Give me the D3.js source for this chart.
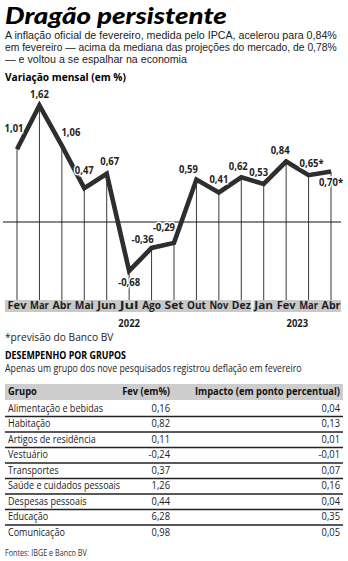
<!DOCTYPE html>
<html>
<head>
<meta charset="utf-8">
<script src="https://cdn.jsdelivr.net/npm/d3@7"></script>
<style>
  body { margin: 0; background: #fff; }
  svg { display: block; font-family: "Open Sans", sans-serif; }
</style>
</head>
<body>
<svg id="chart" width="348" height="561"></svg>
<script>
// monthly IPCA series
const months = ["Fev", "Mar", "Abr", "Mai", "Jun", "Jul", "Ago", "Set", "Out", "Nov", "Dez", "Jan", "Fev", "Mar", "Abr"];
const years = ["2022", "2022", "2022", "2022", "2022", "2022", "2022", "2022", "2022", "2022", "2022", "2023", "2023", "2023", "2023"];
const ipca = [1.01, 1.62, 1.06, 0.47, 0.67, -0.68, -0.36, -0.29, 0.59, 0.41, 0.62, 0.53, 0.84, 0.65, 0.70];
const valueLabels = ["1,01", "1,62", "1,06", "0,47", "0,67", "-0,68", "-0,36", "-0,29", "0,59", "0,41", "0,62", "0,53", "0,84", "0,65*", "0,70*"];

// table
const grupos = ["Alimentação e bebidas", "Habitação", "Artigos de residência", "Vestuário", "Transportes",
  "Saúde e cuidados pessoais", "Despesas pessoais", "Educação", "Comunicação"];
const fev = ["0,16", "0,82", "0,11", "-0,24", "0,37", "1,26", "0,44", "6,28", "0,98"];
const impacto = ["0,04", "0,13", "0,01", "-0,01", "0,07", "0,16", "0,04", "0,35", "0,05"];

// label nudges (dx, dy) relative to each point
const labelNudge = [[-3, -20], [0, -10], [9, -13], [0, -17], [3, -12], [0, 12], [-9, -8], [-10, -15],
  [-8, -9], [0, -12], [-3, -10], [-5, -11], [-6, -10], [3, -11], [0, 11]];

const svg = d3.select("#chart");
const keys = months.map((m, i) => i);

const x = d3.scalePoint().domain(keys).range([17, 331]);
const y = d3.scaleLinear().domain([0, 1]).range([222, 150]);
const bandTop = 300, bandH = 12;

// squeeze text horizontally (the original uses a condensed face)
function squeeze(sel, ratio) {
  sel.each(function (d, i) {
    const el = d3.select(this);
    const r = typeof ratio === "function" ? ratio.call(this, d, i, this.getComputedTextLength()) : ratio;
    const tx = +el.attr("x") || 0, ty = +el.attr("y") || 0;
    el.attr("x", 0).attr("y", 0).attr("transform", `translate(${tx},${ty}) scale(${r},1)`);
  });
}
const fitTo = width => function (d, i, w) { return (typeof width === "function" ? width(d, i) : width) / w; };

// title block
svg.append("text").attr("x", 5).attr("y", 24)
  .style("font-family", "Lato, sans-serif").style("font-weight", 900).style("font-style", "italic")
  .style("font-size", "23.5px")
  .text("Dragão persistente")
  .call(squeeze, fitTo(222));

const sub = [
  "A inflação oficial de fevereiro, medida pelo IPCA, acelerou para 0,84%",
  "em fevereiro — acima da mediana das projeções do mercado, de 0,78%",
  "—  e voltou a se espalhar na economia"
];
const subW = [332, 332, 182];
svg.selectAll(".sub").data(sub).join("text")
  .attr("x", 5).attr("y", (d, i) => 39 + i * 11.8)
  .style("font-family", "'Liberation Sans', sans-serif")
  .style("font-size", "10.5px").style("fill", "#222").text(d => d)
  .call(squeeze, fitTo((d, i) => subW[i]));

svg.append("text").attr("x", 5).attr("y", 81)
  .style("font-weight", 700).style("font-size", "10.5px")
  .text("Variação mensal (em %)").call(squeeze, fitTo(121));

// month band
const step = x.step();
const bandGroups = [[0, 10], [11, 14]];
bandGroups.forEach(([a, b]) => {
  const x0 = a === 0 ? 5 : x(a) - step / 2 + 1;
  const x1 = b === 14 ? 341 : x(b) + step / 2 - 1;
  svg.append("rect").attr("x", x0).attr("y", bandTop).attr("width", x1 - x0).attr("height", bandH)
    .attr("fill", "#c9c9c9");
});

// vertical drop lines
svg.selectAll(".drop").data(keys).join("line")
  .attr("x1", d => x(d)).attr("x2", d => x(d))
  .attr("y1", d => y(ipca[d])).attr("y2", bandTop)
  .attr("stroke", "#3a3a3a").attr("stroke-width", 1);

// zero line
svg.append("line").attr("x1", 3).attr("x2", 341).attr("y1", y(0)).attr("y2", y(0))
  .attr("stroke", "#111").attr("stroke-width", 1.2);

// the series
const line = d3.line().x(d => x(d)).y(d => y(ipca[d]));
svg.append("path").datum(keys).attr("d", line)
  .attr("fill", "none").attr("stroke", "#2e2e2e").attr("stroke-width", 4.6)
  .attr("stroke-linejoin", "miter");

// value labels
svg.selectAll(".val").data(keys).join("text")
  .attr("x", d => x(d) + labelNudge[d][0]).attr("y", d => y(ipca[d]) + labelNudge[d][1])
  .attr("text-anchor", "middle").attr("dominant-baseline", "middle")
  .style("font-weight", 700).style("font-size", "11px").style("fill", "#1e1e1e")
  .attr("stroke", "#fff").attr("stroke-width", 3).attr("paint-order", "stroke")
  .text(d => valueLabels[d])
  .call(squeeze, 0.86);

// month labels
svg.selectAll(".mon").data(keys).join("text")
  .attr("x", d => x(d)).attr("y", bandTop + bandH / 2 + 0.5)
  .attr("text-anchor", "middle").attr("dominant-baseline", "middle")
  .style("font-weight", 700).style("font-size", "10.5px").style("fill", "#1e1e1e")
  .text(d => months[d])
  .call(squeeze, fitTo(d => months[d].length * 6.3));

// year labels
const yearList = Array.from(new Set(years));
svg.selectAll(".yr").data(yearList).join("text")
  .attr("x", yr => {
    const idx = keys.filter(k => years[k] === yr);
    return (x(idx[0]) + x(idx[idx.length - 1])) / 2;
  })
  .attr("y", 327).attr("text-anchor", "middle")
  .style("font-weight", 700).style("font-size", "10.5px").style("fill", "#1e1e1e")
  .text(d => d)
  .call(squeeze, 0.9);

svg.append("text").attr("x", 5).attr("y", 341).style("font-size", "10.5px").style("fill", "#222")
  .text("*previsão do Banco BV").call(squeeze, 0.97);

svg.append("text").attr("x", 5).attr("y", 359).style("font-size", "10.5px").style("font-weight", 700)
  .text("DESEMPENHO POR GRUPOS").call(squeeze, fitTo(121));
svg.append("text").attr("x", 5).attr("y", 372).style("font-size", "10.5px").style("fill", "#222")
  .text("Apenas um grupo dos nove pesquisados registrou deflação em fevereiro")
  .call(squeeze, fitTo(297));

// table
const tTop = 384, hdrH = 16, rowH = 15.5;
const colName = 8, colFev = 170, colImp = 340;
svg.append("rect").attr("x", 5).attr("y", tTop).attr("width", 338).attr("height", hdrH).attr("fill", "#cdcdcd");
const hdr = svg.append("g").style("font-weight", 700).style("font-size", "11px").style("fill", "#111");
hdr.append("text").attr("x", colName).attr("y", tTop + hdrH / 2 + 0.5).attr("dominant-baseline", "middle")
  .text("Grupo").call(squeeze, 0.85);
hdr.append("text").attr("x", colFev).attr("y", tTop + hdrH / 2 + 0.5).attr("dominant-baseline", "middle")
  .attr("text-anchor", "end").text("Fev (em%)").call(squeeze, 0.85);
hdr.append("text").attr("x", colImp).attr("y", tTop + hdrH / 2 + 0.5).attr("dominant-baseline", "middle")
  .attr("text-anchor", "end").text("Impacto (em ponto percentual)").call(squeeze, 0.85);

const rowY = d3.scaleBand().domain(d3.range(grupos.length))
  .range([tTop + hdrH + 1, tTop + hdrH + 1 + rowH * grupos.length]);

const rows = svg.selectAll(".row").data(d3.range(grupos.length)).join("g")
  .attr("transform", i => `translate(0,${rowY(i)})`)
  .style("font-size", "11px").style("fill", "#222");
rows.append("text").attr("x", colName).attr("y", rowH / 2).attr("dominant-baseline", "middle")
  .text(i => grupos[i]).call(squeeze, 0.82);
rows.append("text").attr("x", colFev).attr("y", rowH / 2).attr("dominant-baseline", "middle")
  .attr("text-anchor", "end").text(i => fev[i]).call(squeeze, 0.85);
rows.append("text").attr("x", colImp).attr("y", rowH / 2).attr("dominant-baseline", "middle")
  .attr("text-anchor", "end").text(i => impacto[i]).call(squeeze, 0.85);
rows.filter(i => i < grupos.length - 1).append("line")
  .attr("x1", 5).attr("x2", 343).attr("y1", rowH).attr("y2", rowH)
  .attr("stroke", "#222").attr("stroke-width", 1.3);

svg.append("text").attr("x", 5).attr("y", 556).style("font-size", "8.5px").style("fill", "#333")
  .text("Fontes: IBGE e Banco BV").call(squeeze, 0.85);
</script>
</body>
</html>
